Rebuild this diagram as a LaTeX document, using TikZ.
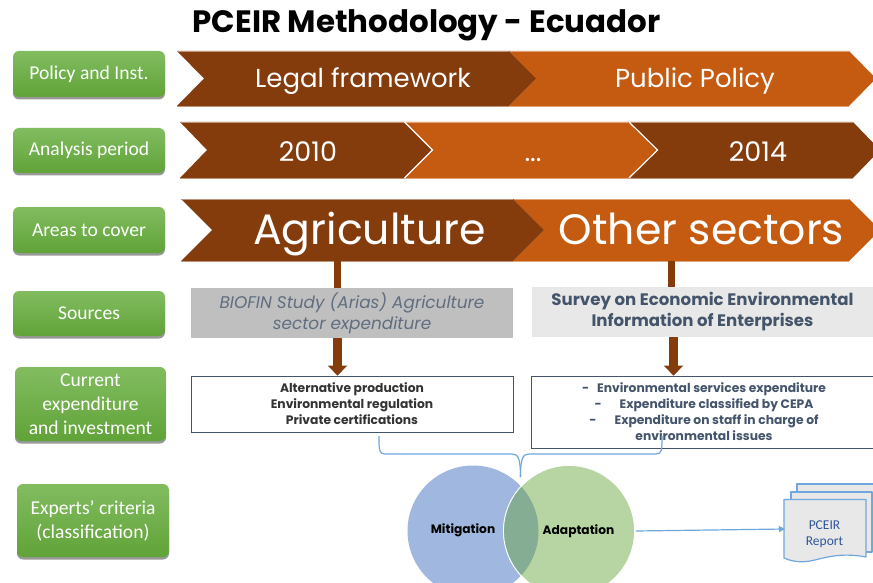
\documentclass[tikz,border=0pt]{standalone}
\usepackage{fontspec}
\setmainfont{Poppins}
\newfontfamily\calfam{Carlito}
\usetikzlibrary{arrows.meta,shadows,positioning}
\definecolor{dkbrown}{HTML}{843C0C}
\definecolor{orng}{HTML}{C55A11}
\definecolor{bluel}{HTML}{6FA8DC}
\definecolor{slate}{HTML}{44546A}
\definecolor{navy}{HTML}{2F5597}
\definecolor{circA}{HTML}{A0B7DF}
\definecolor{circB}{HTML}{B6D5A3}
\definecolor{circC}{HTML}{84AD94}
\definecolor{labtop}{HTML}{82BC60}
\definecolor{labbot}{HTML}{60A338}
\tikzset{
  lab/.style={rounded corners=6pt,top color=labtop,bottom color=labbot,
     inner sep=0pt,text=white,align=center,font=\calfam\fontsize{19.6}{24}\selectfont,
     drop shadow={shadow xshift=0pt,shadow yshift=-2.5pt,fill=black,opacity=.4}},
  chevt/.style={text=white,inner sep=0pt,anchor=base,font=\fontsize{#1}{#1}\selectfont},
  src/.style={inner sep=0pt,align=center},
  wbox/.style={draw=slate,fill=white,line width=.8pt,inner sep=0pt,align=center,font=\bfseries\fontsize{12.3}{16}\selectfont},
  stem/.style={dkbrown,line width=7pt},
  bigarrow/.style={dkbrown,line width=9pt,-{Triangle[length=10pt,width=19pt]}},
  bluelink/.style={bluel,line width=1.2pt},
  doc/.style={draw=bluel,fill=black!9,line width=1.2pt,line join=round},
  circ/.style={circle,minimum size=131pt,inner sep=0pt},
}
\newcommand{\chevshape}[7]{%
  \path[fill=#7] (#1,#5) -- (#3,#5) -- (#4,{(#5+#6)/2}) -- (#3,#6) -- (#1,#6) -- (#2,{(#5+#6)/2}) -- cycle;
  \draw[#7!55!white,line width=.6pt] (#1,#5) -- (#3,#5) (#1,#6) -- (#3,#6);}
\newcommand{\lowertxt}[1]{\raisebox{-1.5pt}{#1}}
\begin{document}
\begin{tikzpicture}[x=1pt,y=-1pt]
\useasboundingbox (0,0) rectangle (873,583);
\clip (0,0) rectangle (873,583);
\fill[white] (0,0) rectangle (873,583);
\node[inner sep=0pt,anchor=base,font=\bfseries\fontsize{30.9}{34}\selectfont,text=black] (title) at (426.5,33) {PCEIR Methodology - Ecuador};
% labels
\node[lab,minimum width=152pt,minimum height=46pt] (l1) at (89,74) {\lowertxt{Policy and Inst.}};
\node[lab,minimum width=152pt,minimum height=45pt] (l2) at (89,150.5) {\lowertxt{Analysis period}};
\node[lab,minimum width=152pt,minimum height=46pt] (l3) at (89,230) {Areas to cover};
\node[lab,minimum width=152pt,minimum height=45pt] (l4) at (89,313.5) {\raisebox{-.7pt}{Sources}};
\node[lab,minimum width=151pt,minimum height=74pt] (l5) at (90.5,404) {Current\\expenditure\\and investment};
\node[lab,minimum width=152pt,minimum height=73pt] (l6) at (93,520.5) {\raisebox{-.8pt}{Experts’ criteria}\\\raisebox{-.8pt}{(classification)}};
% row 1
\chevshape{509}{536}{849}{876}{51}{106}{orng}
\chevshape{177}{204}{509}{536}{51}{106}{dkbrown}
\node[chevt=26] (r1a) at (363,88) {Legal framework};
\node[chevt=26] (r1b) at (695,88) {Public Policy};
% row 2
\chevshape{628}{655}{853}{880}{122}{178}{dkbrown}
\chevshape{404}{431}{628}{656}{122}{178}{orng}
\chevshape{180}{207}{404}{432}{122}{178}{dkbrown}
\draw[white,line width=1.2pt] (404.5,122) -- (432.5,150) -- (404.5,178);
\draw[white,line width=1.2pt] (629,122) -- (657.5,150) -- (629,178);
\node[chevt=27] (r2a) at (308,161) {2010};
\node[chevt=27] (r2b) at (533,161) {...};
\node[chevt=27] (r2c) at (758,161) {2014};
% row 3
\chevshape{513}{544}{849}{880}{199}{261}{orng}
\chevshape{181}{212}{513}{544}{199}{261}{dkbrown}
\node[chevt=42.6] (r3a) at (369.5,244.5) {Agriculture};
\node[chevt=42.6] (r3b) at (701.5,244.5) {Other sectors};
\coordinate (s1) at (337.5,261);
\coordinate (s2) at (671.5,261);
\coordinate (a2) at (673.5,261);
% sources
\node[src,fill=black!25,minimum width=322pt,minimum height=50pt,text=slate!85!white,font=\itshape\fontsize{16.9}{21}\selectfont] (b1) at (352,313) {BIOFIN Study (Arias) Agriculture\\sector expenditure};
\node[src,fill=black!9,minimum width=341pt,minimum height=50pt,text=slate,font=\bfseries\fontsize{16.6}{21}\selectfont] (b2) at (702.5,312) {Survey on Economic Environmental\\Information of Enterprises};
\draw[stem] (s1) -- (s1 |- b1.north);
\draw[stem] (s2) -- (s2 |- b2.north);
% outcome boxes
\node[wbox,minimum width=322pt,minimum height=56pt,text=black!80] (c1) at (352,404) {\raisebox{1pt}{Alternative production}\\\raisebox{1pt}{Environmental regulation}\\\raisebox{1pt}{Private certifications}};
\node[wbox,minimum width=346pt,minimum height=72pt,text=slate] (c2) at (704,412) {\raisebox{1pt}{-\hspace{8pt}Environmental services expenditure}\\\raisebox{1pt}{-\hspace{18pt}Expenditure classified by CEPA}\\\raisebox{1pt}{-\hspace{18pt}Expenditure on staff in charge of}\\\raisebox{1pt}{environmental issues}};
\draw[bigarrow] (s1 |- b1.south) -- (s1 |- c1.north);
\draw[bigarrow] (a2 |- b2.south) -- (a2 |- c2.north);
% circles
\node[circ,fill=circA] (mit) at (473,531) {};
\node[circ,fill=circB,draw=white,line width=.8pt] (ada) at (569,531) {};
\begin{scope}
  \clip (473,531) circle (65.5pt);
  \fill[circC] (569,531) circle (65.5pt);
\end{scope}
\draw[white,line width=.8pt] (503.5,531) arc[start angle=180,end angle=115,radius=65.5pt];
\draw[white,line width=.8pt] (503.5,531) arc[start angle=180,end angle=245,radius=65.5pt];
\node[inner sep=0pt,font=\bfseries\fontsize{12.2}{14}\selectfont,text=black] (mt) at (463,530) {Mitigation};
\node[inner sep=0pt,font=\bfseries\fontsize{12.2}{14}\selectfont,text=black] (at) at (578.5,531) {Adaptation};
% bracket
\coordinate (br1) at (379,436);
\coordinate (br2) at (662,436);
\coordinate (brtip) at (520.5,477);
\draw[bluelink] (br1) .. controls (379,450) and (379,454) .. (385,454) -- (512,454) .. controls (518,454) and (520.5,458) .. (brtip);
\draw[bluelink] (br2) .. controls (662,450) and (662,454) .. (656,454) -- (529,454) .. controls (523,454) and (520.5,458) .. (brtip);
% report
\path[doc] (797,484) -- (880,484) -- (880,545) -- (797,545) -- cycle;
\path[doc] (791,492) -- (872,492) -- (872,552) -- (791,552) -- cycle;
\path[doc] (784,499.5) -- (866,499.5) -- (866,557) .. controls (845,553) and (830,556) .. (815,560) .. controls (803,563) and (793,562) .. (784,558) -- cycle;
\node[inner sep=0pt,align=center,text=navy,font=\calfam\fontsize{13.5}{16}\selectfont] (rep) at (824.5,534.5) {PCEIR\\Report};
\coordinate (repin) at (785,529);
\draw[bluelink,-{Triangle[length=6pt,width=6pt]}] (ada.east) ++(1,0) -- (repin);
\end{tikzpicture}
\end{document}
